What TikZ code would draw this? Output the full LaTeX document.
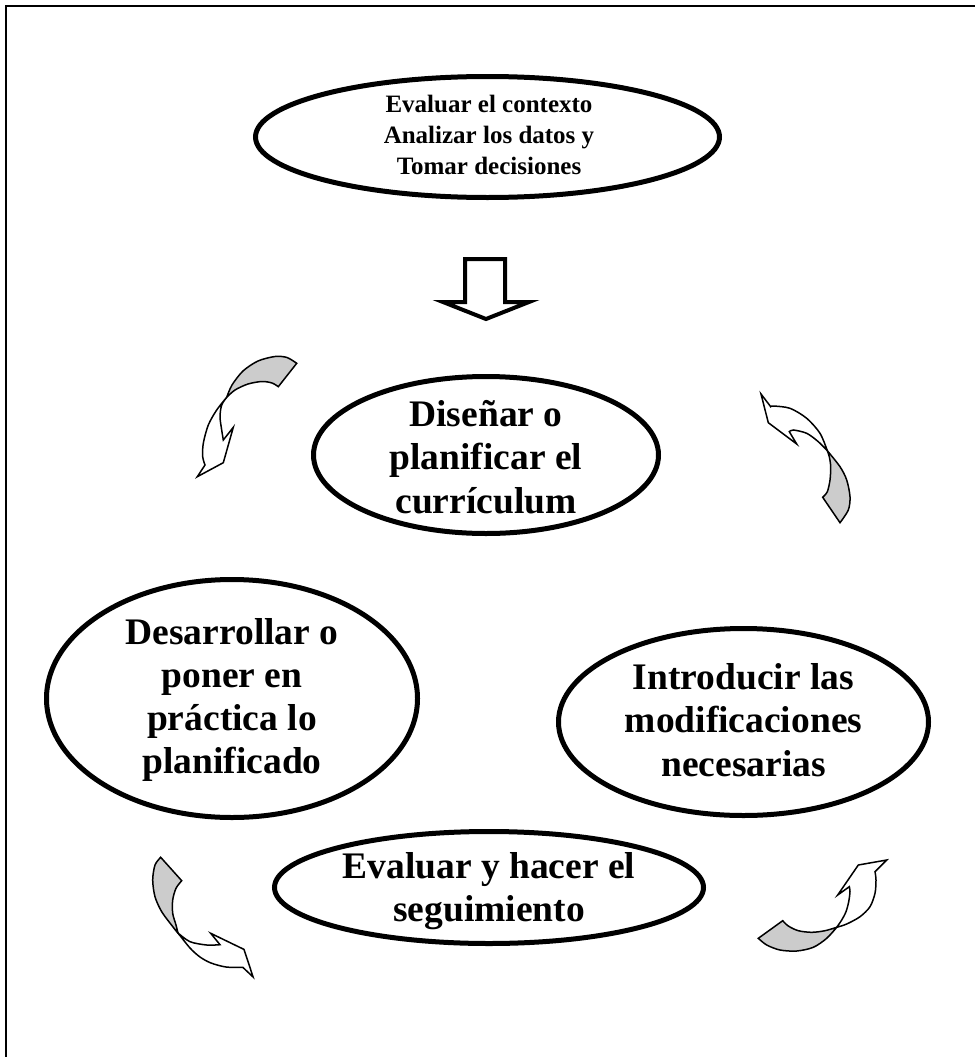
\documentclass[tikz,border=0pt]{standalone}
\usepackage{fontspec}
\setmainfont{Liberation Serif}
\usetikzlibrary{shapes.geometric}
\begin{document}
\begin{tikzpicture}[x=1pt,y=-1pt,
  oval/.style={draw, ellipse, line width=5pt, inner sep=0pt},
  lbl/.style={align=center, font=\bfseries\fontsize{37.5}{43.2}\selectfont, inner sep=0pt},
  toplbl/.style={align=center, font=\bfseries\fontsize{25}{31}\selectfont, inner sep=0pt},
  ribbon/.style={draw, line width=1.5pt, line join=miter},
  shade/.style={ribbon, fill=black!20},
  paper/.style={ribbon, fill=white},
]
\useasboundingbox (0,0) rectangle (975,1057);
% page frame (top and left rules)
\draw[line width=2.5pt] (6,1057) -- (6,6) -- (975,6);

% ovals and their labels
\node[oval, minimum width=464pt, minimum height=121pt] (ctx) at (487.5,137) {};
\node[toplbl] (ctxt) at (489,135) {Evaluar el contexto\\Analizar los datos y\\Tomar decisiones};

\node[oval, minimum width=345pt, minimum height=157pt] (dis) at (486,455) {};
\node[lbl] (dist) at (486,457) {Diseñar o\\planificar el\\currículum};

\node[oval, minimum width=371pt, minimum height=238pt] (des) at (232,698.5) {};
\node[lbl] (dest) at (232,700) {Desarrollar o\\poner en\\práctica lo\\planificado};

\node[oval, minimum width=370pt, minimum height=187pt] (int) at (743.5,722) {};
\node[lbl] (intt) at (743.5,720) {Introducir las\\modificaciones\\necesarias};

\node[oval, minimum width=429pt, minimum height=112pt] (eva) at (489,887.5) {};
\node[lbl] (evat) at (489,891) {Evaluar y hacer el\\seguimiento};

% block arrow below the top oval
\draw[line width=4pt, line join=miter]
  (465,259) -- (505,259) -- (505,302) -- (529,302) -- (486,319)
  -- (443,302) -- (465,302) -- cycle;

% twisted ribbon arrow, upper left
\path[shade] (296.7,363.3)
  -- plot[smooth] coordinates {(296.7,363.3) (287,357.5) (275,356.5) (258,361) (243,371) (232,385) (226.7,397.3)}
  -- plot[smooth] coordinates {(226.7,397.3) (235,390) (248,384) (262,381.5) (272,383) (278.3,386.7)}
  -- cycle;
\path[paper] (226.7,397.3)
  -- plot[smooth] coordinates {(226.7,397.3) (216.7,410) (208.3,425) (203.3,443.3) (202.7,456.7) (205,465)}
  -- (197.3,476.7) -- (223.3,462.7) -- (233.3,427.3) -- (223.3,440)
  -- plot[smooth] coordinates {(223.3,440) (221.7,430) (220,416.7) (221.7,405) (226.7,397.3)}
  -- cycle;

% twisted ribbon arrow, upper right
\path[shade] (827.3,450.7)
  -- plot[smooth] coordinates {(827.3,450.7) (840,466.7) (846.7,480) (850,496.7) (848.3,510) (840,522.7)}
  -- (822.7,497.3)
  -- plot[smooth] coordinates {(822.7,497.3) (827.3,491.7) (830,480) (830.7,466.7) (829.3,456.7) (827.3,450.7)}
  -- cycle;
\path[paper] (761,394) -- (770.7,406.7)
  -- plot[smooth] coordinates {(770.7,406.7) (773.3,406) (790,408.3) (806.7,418.3) (820,433.3) (827.3,450.7)}
  -- plot[smooth] coordinates {(827.3,450.7) (818.3,441.7) (806.7,433.3) (793.3,430) (789.3,431.7)}
  -- (796.7,444) -- (768.3,422.7) -- cycle;

% twisted ribbon arrow, lower left
\path[shade] (160.7,857.3) -- (181.7,880.7)
  -- plot[smooth] coordinates {(181.7,880.7) (176,888.3) (172.7,900) (172.7,913.3) (176,925) (178,933)}
  -- plot[smooth] coordinates {(178,933) (173.3,927.3) (161.7,911.7) (155,896.7) (152.7,880) (155,865) (160.7,857.3)}
  -- cycle;
\path[paper] (178,933)
  -- plot[smooth] coordinates {(178,933) (190,941.7) (206.7,945) (220,944.7)}
  -- (210.7,933.3) -- (244,949.4) -- (253.1,977) -- (242.9,967.4)
  -- plot[smooth] coordinates {(242.9,967.4) (226,967) (211,963) (200,957) (190,948) (178,933)}
  -- cycle;

% twisted ribbon arrow, lower right
\path[shade] (758.3,938.3) -- (782.7,920.7)
  -- plot[smooth] coordinates {(782.7,920.7) (788.3,926) (798.3,930.7) (811.7,932.3) (825,930.7) (836.7,927.3)}
  -- plot[smooth] coordinates {(836.7,927.3) (826.7,938.3) (813.3,947.3) (796.7,951) (780,950) (766.7,945) (758.3,938.3)}
  -- cycle;
\path[paper] (836.7,927.3)
  -- plot[smooth] coordinates {(836.7,927.3) (841.7,920) (846,911.7) (848.7,901.7) (850,891.7) (849.3,886.7)}
  -- (837.7,895) -- (858.3,865) -- (886.7,860) -- (875,871.7)
  -- plot[smooth] coordinates {(875,871.7) (876,880) (875,893.3) (870,906.7) (860,916.7) (846.7,924) (836.7,927.3)}
  -- cycle;
\end{tikzpicture}
\end{document}
